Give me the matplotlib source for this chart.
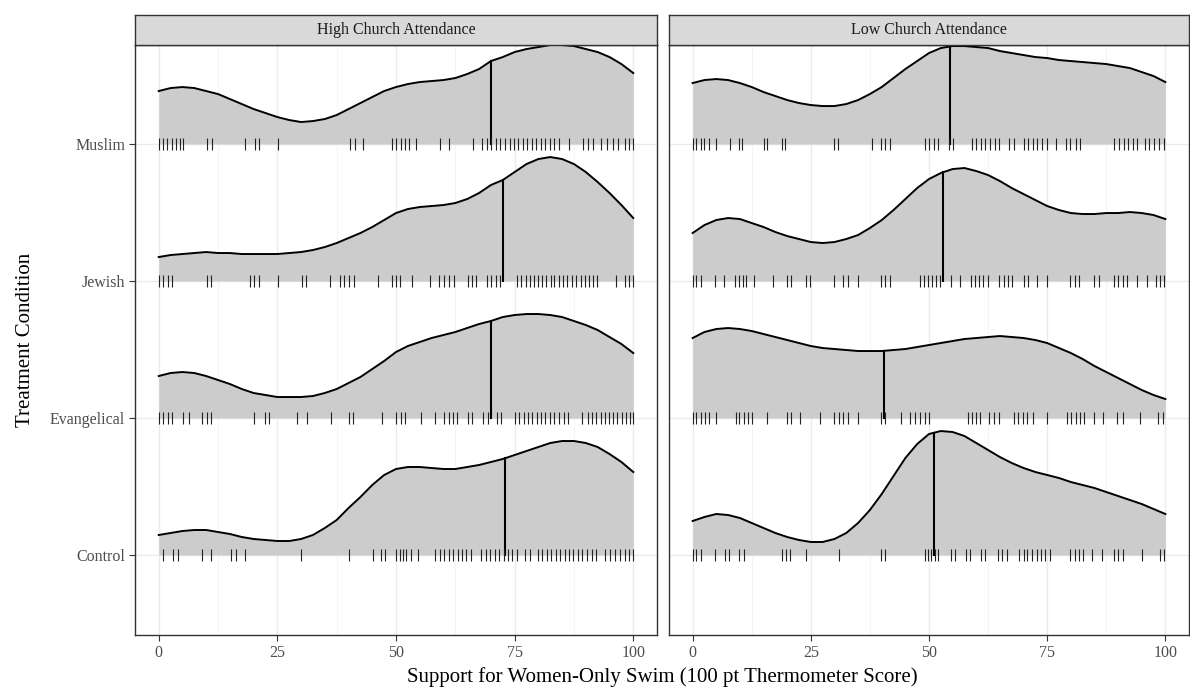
import numpy as np
import matplotlib.pyplot as plt

plt.rcParams['font.family'] = ['Liberation Serif', 'DejaVu Serif']

conditions = ['Control', 'Evangelical', 'Jewish', 'Muslim']
panels = ['High Church Attendance', 'Low Church Attendance']

# ridge heights read every 2.5 points (0..100), in pixels of a 137 px row
x_grid = np.arange(0, 100.1, 2.5)
high_muslim = [53, 56, 57, 56, 53, 50, 45, 40, 35, 31, 27, 24, 22, 23, 25, 29, 35, 41, 47, 53, 57,
               60, 62, 63, 64, 66, 70, 75, 83, 87, 92, 95, 97, 99, 99, 98, 95, 92, 87, 80, 71]
high_jewish = [24, 26, 27, 28, 29, 28, 28, 27, 27, 27, 27, 28, 29, 31, 34, 38, 43, 48, 54, 61, 68,
               72, 74, 75, 76, 78, 82, 88, 96, 101, 109, 117, 122, 124, 122, 117, 109, 99, 88, 76, 63]
high_evang = [42, 45, 46, 45, 42, 38, 34, 29, 25, 23, 21, 21, 21, 22, 25, 29, 35, 41, 49, 57, 66,
              72, 76, 80, 83, 86, 90, 94, 97, 101, 103, 104, 104, 103, 101, 97, 93, 88, 81, 74, 65]
high_control = [20, 22, 24, 25, 25, 23, 21, 18, 16, 15, 14, 14, 16, 20, 27, 35, 47, 58, 70, 80, 86,
                88, 88, 87, 86, 86, 88, 90, 93, 96, 100, 104, 108, 112, 114, 114, 112, 108, 101, 93, 83]
low_muslim = [61, 64, 65, 64, 61, 57, 52, 48, 44, 41, 39, 38, 38, 40, 44, 50, 57, 66, 75, 83, 91,
              96, 98, 98, 97, 96, 93, 91, 89, 87, 86, 84, 83, 82, 81, 80, 78, 76, 72, 68, 62]
low_jewish = [48, 56, 61, 63, 62, 58, 54, 49, 45, 42, 39, 38, 39, 42, 46, 53, 61, 71, 82, 93, 102,
              108, 112, 113, 110, 106, 100, 93, 87, 81, 75, 71, 68, 67, 67, 68, 68, 69, 68, 66, 62]
low_evang = [80, 86, 89, 90, 89, 87, 84, 81, 78, 75, 72, 70, 69, 68, 67, 67, 67, 68, 69, 71, 73,
             75, 77, 79, 80, 81, 82, 81, 80, 78, 75, 70, 65, 59, 52, 46, 40, 34, 28, 23, 19]
low_control = [34, 38, 41, 40, 37, 32, 27, 22, 18, 15, 13, 13, 16, 22, 32, 45, 61, 79, 97, 111, 121,
               124, 123, 119, 112, 105, 98, 92, 87, 83, 80, 77, 73, 70, 67, 63, 59, 55, 51, 46, 41]
row_px = 137.0

# medians (vertical lines)
high_medians = [73, 70, 72.5, 70]      # Control, Evangelical, Jewish, Muslim
low_medians = [51, 40.5, 53, 54.5]

# rug values
rug_high_muslim = [0, 0.9, 1.8, 2.7, 3.6, 4.5, 5.2, 10.1, 11.2, 18.2, 20.3, 21.1, 25.2, 40.3, 41.3, 43.1,
                   49.2, 50.1, 51.0, 51.9, 52.8, 54.3, 59.3, 61.2, 66.3, 68.2, 69.1, 70.1, 71.0, 71.9, 72.9,
                   74.0, 74.9, 75.7, 76.8, 77.7, 78.7, 79.6, 80.6, 81.5, 82.5, 83.4, 84.3, 86.5, 89.4, 90.5,
                   91.5, 93.3, 94.5, 95.7, 96.8, 98.2, 99.2, 100]
rug_low_muslim = [0, 0.8, 1.7, 2.5, 3.4, 5.0, 8.0, 9.8, 10.5, 15.0, 15.7, 18.9, 19.6, 30, 30.7, 38, 39.9,
                  40.6, 41.7, 49.1, 50.1, 51.0, 51.9, 54.3, 55.0, 59.0, 59.9, 61.0, 61.9, 62.9, 63.9, 64.8,
                  66.9, 68.0, 70.1, 71.0, 71.9, 72.9, 74.0, 74.9, 76.8, 79.0, 79.9, 81.0, 82.0, 89.1, 90.1,
                  91.2, 92.2, 93.1, 94.1, 95.7, 96.6, 97.6, 98.7, 99.7]
rug_high_jewish = [0.1, 1, 1.9, 2.9, 10.1, 11.0, 19.2, 20.1, 21.1, 25.2, 30.1, 31.0, 36.1, 38.2, 39.1, 40.1,
                   41.1, 46.3, 49.1, 50.1, 50.8, 53.3, 57.1, 59, 60.1, 61.1, 62.2, 65.2, 66.1, 66.9, 69.1,
                   70.1, 71.0, 71.9, 75.4, 76.3, 77.3, 78.2, 79.1, 79.9, 80.8, 81.7, 82.6, 83.4, 84.3, 85.2,
                   86.1, 87.1, 88.0, 88.9, 89.8, 90.6, 91.5, 92.4, 96.4, 98.2, 99.1, 100]
rug_low_jewish = [0, 0.8, 1.7, 4.8, 6.6, 8.9, 9.8, 10.6, 11.2, 12.9, 16.9, 19.9, 20.8, 23.9, 24.8, 29.9,
                  31.9, 32.9, 34.9, 39.8, 40.6, 41.7, 48, 48.9, 49.8, 50.6, 51.5, 52.4, 54.7, 56.6, 58.9,
                  59.7, 60.6, 61.5, 62.4, 64.8, 65.8, 66.7, 67.6, 70.1, 71.0, 72.9, 75.0, 79.9, 80.8, 81.7,
                  84.9, 85.9, 89.1, 90, 91, 91.9, 94, 96.1, 98.0, 98.9, 99.8]
rug_high_evang = [0.1, 1, 1.9, 2.9, 5.2, 6.3, 9.2, 10.1, 11.0, 20.1, 22.3, 23.2, 29.1, 31.2, 36.3, 40.1,
                  41.0, 47.1, 50.1, 51.0, 52.0, 55.2, 58.2, 60.1, 61.1, 62.0, 62.9, 65.2, 66.1, 68.4, 69.3,
                  71.2, 72.2, 75.0, 75.9, 76.9, 77.8, 78.7, 79.7, 80.6, 81.5, 82.5, 83.4, 84.4, 85.3, 86.3,
                  89.1, 90.5, 91.3, 92.2, 93.1, 94.0, 94.9, 95.8, 96.6, 97.6, 98.5, 99.4, 100]
rug_low_evang = [0, 0.8, 1.7, 2.6, 3.4, 5.0, 9.1, 9.9, 10.8, 11.7, 12.6, 15.7, 19.9, 20.8, 22.7, 27.0, 30,
                 31, 31.9, 32.8, 35.0, 39.9, 40.6, 44.1, 45.9, 47, 48, 49.1, 50.1, 58.2, 59.0, 59.9, 60.8,
                 62.7, 63.8, 64.8, 68, 68.9, 69.9, 70.8, 71.9, 75, 79.1, 80.1, 81.0, 81.9, 82.8, 84.9, 86.9,
                 89.8, 91.0, 94.7, 98.5, 99.6]
rug_high_control = [0.9, 3.1, 4.0, 9.2, 11.0, 15.3, 16.2, 18.1, 30.0, 40.1, 45.2, 46.9, 47.7, 50.1, 50.8,
                    51.5, 52.2, 53.1, 54.7, 58.2, 59.2, 60.1, 61.1, 62.0, 63.0, 63.9, 64.8, 65.8, 68, 68.9,
                    69.9, 70.8, 71.7, 72.7, 73.6, 74.5, 75.5, 77.1, 78.2, 79.9, 80.8, 81.8, 82.7, 83.7, 84.6,
                    85.6, 86.5, 87.4, 88.4, 89.3, 90.3, 91.2, 92.1, 94, 95, 96.1, 97.1, 98.2, 99.1, 100]
rug_low_control = [0, 0.8, 1.7, 4.8, 6.8, 7.7, 9.9, 10.8, 18.9, 19.8, 20.6, 23.9, 30.9, 39.9, 40.6, 49.1,
                   49.8, 50.5, 51.2, 51.9, 54.7, 55.5, 57.8, 58.7, 61, 61.9, 64.5, 65.4, 66.4, 69.1, 70,
                   70.8, 71.7, 72.8, 73.6, 74.5, 75.5, 79.9, 80.8, 81.7, 82.6, 84.5, 86.6, 89.1, 90, 91,
                   95.0, 98.9, 99.8]

heights = [[high_control, high_evang, high_jewish, high_muslim],
           [low_control, low_evang, low_jewish, low_muslim]]
rugs = [[rug_high_control, rug_high_evang, rug_high_jewish, rug_high_muslim],
        [rug_low_control, rug_low_evang, rug_low_jewish, rug_low_muslim]]
medians = [high_medians, low_medians]

fig = plt.figure(figsize=(11.9, 6.95), dpi=100)
W, H = 1190.0, 695.0
panel_x = [(135, 657), (669, 1189)]
top, bottom, strip_h = 45, 635, 30

for p in range(2):
    x0, x1 = panel_x[p]
    ax = fig.add_axes([x0 / W, (H - bottom) / H, (x1 - x0) / W, (bottom - top) / H])
    ax.set_xlim(-5, 105)
    ax.set_ylim(0.416, 4.723)
    ax.set_xticks([0, 25, 50, 75, 100])
    ax.set_xticks([12.5, 37.5, 62.5, 87.5], minor=True)
    ax.set_yticks([1, 2, 3, 4])
    ax.grid(True, which='major', color='#ebebeb', lw=1.0, zorder=0)
    ax.grid(True, which='minor', axis='x', color='#f2f2f2', lw=0.6, zorder=0)
    ax.set_axisbelow(True)
    for s in ax.spines.values():
        s.set_color('#333333')
        s.set_linewidth(1.0)
    ax.tick_params(which='major', length=4, color='#333333', labelsize=11.5,
                   labelcolor='#4d4d4d', pad=3)
    ax.tick_params(which='minor', length=0)
    if p == 0:
        ax.set_yticklabels(conditions)
        ax.set_ylabel('Treatment Condition', fontsize=15, color='black', labelpad=11)
    else:
        ax.set_yticklabels([])
        ax.tick_params(axis='y', length=0)

    for i in range(3, -1, -1):
        base = i + 1
        h = np.array(heights[p][i]) / row_px
        z = 10 + (3 - i) * 3
        ax.fill_between(x_grid, base, base + h, color='#cccccc', lw=0, zorder=z)
        ax.plot(x_grid, base + h, color='black', lw=1.4, zorder=z + 1)
        m = medians[p][i]
        ax.plot([m, m], [base, base + np.interp(m, x_grid, h)], color='black', lw=1.5, zorder=z + 1)
        r = rugs[p][i]
        ax.plot(r, np.full(len(r), base), ls='none', marker='|', ms=8, mew=0.8,
                color='#222222', zorder=z + 2)

    sax = fig.add_axes([x0 / W, (H - top) / H, (x1 - x0) / W, strip_h / H])
    sax.set_xticks([])
    sax.set_yticks([])
    sax.set_facecolor('#d9d9d9')
    for s in sax.spines.values():
        s.set_color('#333333')
        s.set_linewidth(1.0)
    sax.text(0.5, 0.5, panels[p], ha='center', va='center', fontsize=11.5,
             color='#1a1a1a', transform=sax.transAxes)

fig.text((135 + 1189) / 2 / W, 0.012, 'Support for Women-Only Swim (100 pt Thermometer Score)',
         ha='center', va='bottom', fontsize=15)

fig.savefig('out.png', dpi=100)
